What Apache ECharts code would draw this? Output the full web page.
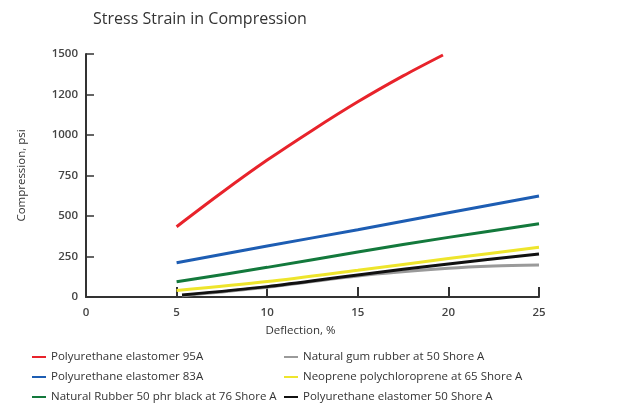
<!DOCTYPE html>
<html>
<head>
<meta charset="utf-8">
<script src="https://cdn.jsdelivr.net/npm/echarts@6/dist/echarts.min.js"></script>
<style>html,body{margin:0;padding:0;background:#fff}#c{width:627px;height:409px}</style>
</head>
<body>
<div id="c"></div>
<script>
// Data (x = deflection %, y = compression, axis-position units)
const xTicks = [0, 5, 10, 15, 20, 25];
const yTickLabels = ['0', '250', '500', '750', '1000', '1200', '1500'];

const pu95A_x = [5, 7.5, 10, 12.5, 15, 17.5, 19.7];
const pu95A_y = [434, 645, 845, 1030, 1205, 1365, 1494];

const pu83A_x = [5, 10, 15, 20, 25];
const pu83A_y = [212, 315, 415, 520, 623];

const nr76_x = [5, 10, 15, 20, 25];
const nr76_y = [94, 183, 278, 368, 452];

const gum50_x = [5.3, 10, 15, 20, 22.5, 25];
const gum50_y = [8, 60, 130, 177, 191, 197];

const neo65_x = [5, 10, 15, 20, 25];
const neo65_y = [40, 95, 165, 237, 307];

const pu50A_x = [5.3, 10, 15, 20, 25];
const pu50A_y = [12, 64, 136, 204, 265];

const names = [
  'Polyurethane elastomer 95A',
  'Polyurethane elastomer 83A',
  'Natural Rubber 50 phr black at 76 Shore A',
  'Natural gum rubber at 50 Shore A',
  'Neoprene polychloroprene at 65 Shore A',
  'Polyurethane elastomer 50 Shore A'
];
const colors = ['#e8232b', '#1d5db3', '#13793c', '#9a9a9a', '#eee52c', '#111111'];

function zip(xs, ys) { return xs.map((x, i) => [x, ys[i]]); }
const seriesData = [
  zip(pu95A_x, pu95A_y),
  zip(pu83A_x, pu83A_y),
  zip(nr76_x, nr76_y),
  zip(gum50_x, gum50_y),
  zip(neo65_x, neo65_y),
  zip(pu50A_x, pu50A_y)
];

const font = 'Open Sans';
const legendBase = {
  orient: 'vertical', top: 351, height: 56, padding: 0,
  itemWidth: 14, itemHeight: 2, itemGap: 8, icon: 'rect',
  textStyle: { fontFamily: font, fontSize: 11.5, color: '#333', padding: [0, 0, 0, 0] }
};
const chart = echarts.init(document.getElementById('c'));
chart.setOption({
  animation: false,
  backgroundColor: '#fff',
  title: {
    text: 'Stress Strain in Compression',
    left: 88, top: 6,
    textStyle: { fontFamily: font, fontSize: 16, fontWeight: 'normal', color: '#333' }
  },
  legend: [
    Object.assign({}, legendBase, { data: [names[0], names[1], names[2]], left: 32 }),
    Object.assign({}, legendBase, { data: [names[3], names[4], names[5]], left: 284 })
  ],
  grid: { left: 86, right: 88, top: 54, bottom: 112, containLabel: false },
  xAxis: {
    type: 'value', min: 0, max: 25, interval: 5,
    name: 'Deflection, %', nameLocation: 'middle', nameGap: 28,
    nameTextStyle: { fontFamily: font, fontSize: 11.5, color: '#333', padding: [0, 24, 0, 0] },
    axisLine: { lineStyle: { color: '#333', width: 2 } },
    axisTick: { inside: true, length: 10, lineStyle: { color: '#333', width: 2 } },
    axisLabel: { fontFamily: font, fontSize: 11.5, fontWeight: 600, color: '#444', margin: 10,
      formatter: v => String(v) },
    splitLine: { show: false }
  },
  yAxis: {
    type: 'value', min: 0, max: 1500, interval: 250,
    name: 'Compression, psi', nameLocation: 'middle', nameGap: 58,
    nameTextStyle: { fontFamily: font, fontSize: 11.5, color: '#333' },
    axisLine: { show: true, lineStyle: { color: '#333', width: 2 } },
    axisTick: { show: true, inside: true, length: 8, lineStyle: { color: '#333', width: 1.5 } },
    axisLabel: { fontFamily: font, fontSize: 11.5, fontWeight: 600, color: '#444', margin: 8,
      formatter: v => yTickLabels[Math.round(v / 250)] },
    splitLine: { show: false }
  },
  series: names.map((n, i) => ({
    name: n,
    type: 'line',
    data: seriesData[i],
    smooth: 0.3,
    showSymbol: false,
    symbol: 'none',
    color: colors[i],
    lineStyle: { color: colors[i], width: 3 },
    z: i === 5 ? 5 : (i === 4 ? 4 : 3)
  }))
});
</script>
</body>
</html>
